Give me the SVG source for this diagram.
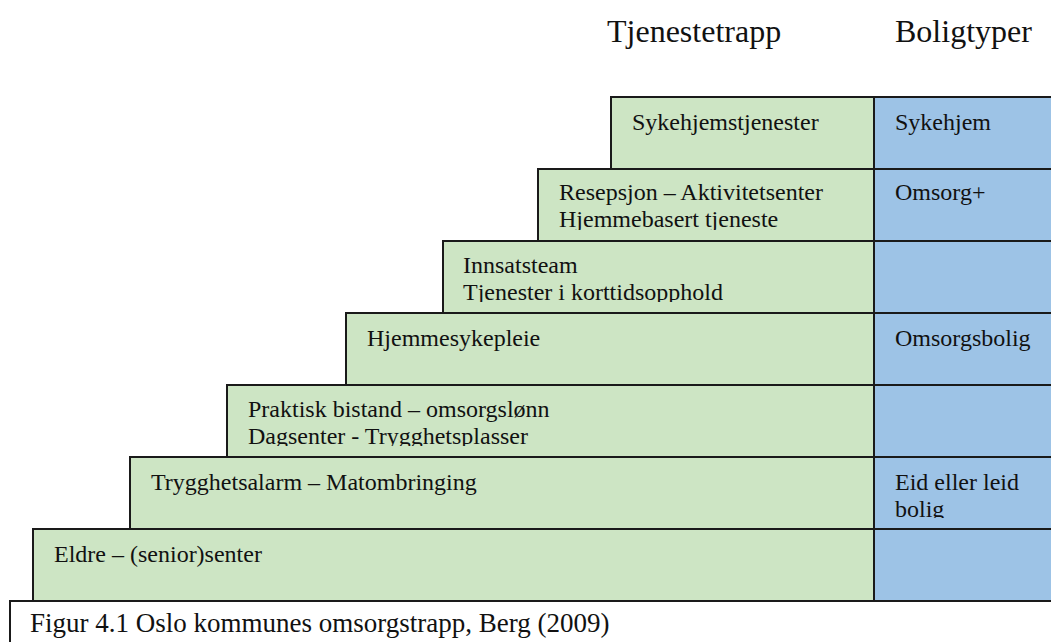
<svg xmlns="http://www.w3.org/2000/svg" width="1051" height="642" viewBox="0 0 1051 642">
  <style>
    .g { fill: #CDE5C4; stroke: #1a1a1a; stroke-width: 2; }
    .b { fill: #9DC3E6; stroke: #1a1a1a; stroke-width: 2; }
    .t { font-family: "Liberation Serif", "Times New Roman", serif; font-size: 24px; fill: #111; }
    .h { font-family: "Liberation Serif", "Times New Roman", serif; font-size: 32px; fill: #111; }
    .c { font-family: "Liberation Serif", "Times New Roman", serif; font-size: 27px; fill: #111; }
  </style>
  <defs>
    <clipPath id="c2" clipPathUnits="userSpaceOnUse"><rect x="0" y="169" width="1051" height="61"/></clipPath>
    <clipPath id="c3" clipPathUnits="userSpaceOnUse"><rect x="0" y="241" width="1051" height="61"/></clipPath>
    <clipPath id="c5" clipPathUnits="userSpaceOnUse"><rect x="0" y="385" width="1051" height="61"/></clipPath>
    <clipPath id="c6" clipPathUnits="userSpaceOnUse"><rect x="0" y="457" width="1051" height="61"/></clipPath>
  </defs>
  <rect width="1051" height="642" fill="#ffffff"/>

  <g id="titles">
    <text class="h" x="607" y="42">Tjenestetrapp</text>
    <text class="h" x="895" y="42">Boligtyper</text>
  </g>

  <g id="row1">
    <rect class="g" x="611" y="97" width="263" height="72"/>
    <rect class="b" x="874" y="97" width="180" height="72"/>
    <text class="t" x="632" y="130">Sykehjemstjenester</text>
    <text class="t" x="895" y="130">Sykehjem</text>
  </g>

  <g id="row2">
    <rect class="g" x="538" y="169" width="336" height="72"/>
    <rect class="b" x="874" y="169" width="180" height="72"/>
    <g clip-path="url(#c2)">
      <text class="t" x="559" y="200">Resepsjon – Aktivitetsenter</text>
      <text class="t" x="559" y="227">Hjemmebasert tjeneste</text>
    </g>
    <text class="t" x="895" y="200">Omsorg+</text>
  </g>

  <g id="row3">
    <rect class="g" x="443" y="241" width="431" height="72"/>
    <rect class="b" x="874" y="241" width="180" height="72"/>
    <g clip-path="url(#c3)">
      <text class="t" x="463" y="273">Innsatsteam</text>
      <text class="t" x="463" y="300">Tjenester i korttidsopphold</text>
    </g>
  </g>

  <g id="row4">
    <rect class="g" x="346" y="313" width="528" height="72"/>
    <rect class="b" x="874" y="313" width="180" height="72"/>
    <text class="t" x="367" y="346">Hjemmesykepleie</text>
    <text class="t" x="895" y="346">Omsorgsbolig</text>
  </g>

  <g id="row5">
    <rect class="g" x="227" y="385" width="647" height="72"/>
    <rect class="b" x="874" y="385" width="180" height="72"/>
    <g clip-path="url(#c5)">
      <text class="t" x="248" y="417">Praktisk bistand – omsorgslønn</text>
      <text class="t" x="248" y="444">Dagsenter - Trygghetsplasser</text>
    </g>
  </g>

  <g id="row6">
    <rect class="g" x="130" y="457" width="744" height="72"/>
    <rect class="b" x="874" y="457" width="180" height="72"/>
    <text class="t" x="151" y="490">Trygghetsalarm – Matombringing</text>
    <g clip-path="url(#c6)">
      <text class="t" x="895" y="490">Eid eller leid</text>
      <text class="t" x="895" y="517">bolig</text>
    </g>
  </g>

  <g id="row7">
    <rect class="g" x="33" y="529" width="841" height="72"/>
    <rect class="b" x="874" y="529" width="180" height="72"/>
    <text class="t" x="54" y="562">Eldre – (senior)senter</text>
  </g>

  <g id="caption">
    <rect x="10" y="601" width="1050" height="60" fill="#ffffff" stroke="#1a1a1a" stroke-width="2"/>
    <text class="c" x="30" y="632">Figur 4.1 Oslo kommunes omsorgstrapp, Berg (2009)</text>
  </g>
</svg>
